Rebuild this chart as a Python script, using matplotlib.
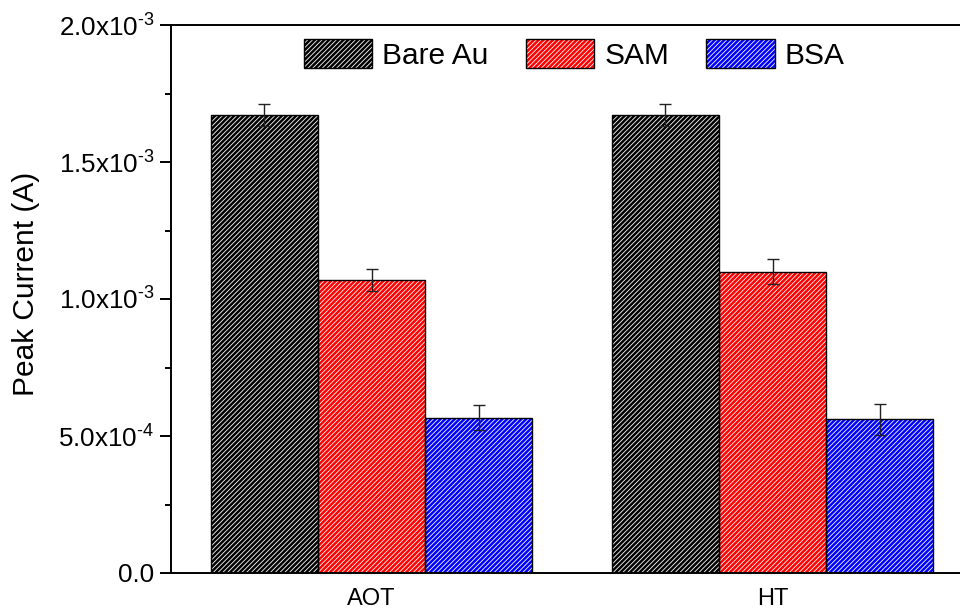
import matplotlib
matplotlib.use("Agg")
import matplotlib.pyplot as plt
from matplotlib.patches import Patch
from matplotlib.legend_handler import HandlerTuple
from matplotlib.ticker import FuncFormatter, MultipleLocator
import numpy as np

# Peak current per electrode stage, two surfactants
groups = ["AOT", "HT"]
series = ["Bare Au", "SAM", "BSA"]
bare_au = [1.672e-3, 1.672e-3]
bare_au_err = [0.039e-3, 0.039e-3]
sam = [1.069e-3, 1.100e-3]
sam_err = [0.040e-3, 0.046e-3]
bsa = [0.567e-3, 0.561e-3]
bsa_err = [0.046e-3, 0.056e-3]

colors = ["#000000", "#ff0000", "#0000ff"]
hatch = "///////"

plt.rcParams["font.family"] = ["Liberation Sans", "DejaVu Sans"]
plt.rcParams["mathtext.fontset"] = "custom"
plt.rcParams["mathtext.rm"] = "Liberation Sans"
plt.rcParams["mathtext.default"] = "regular"
plt.rcParams["hatch.linewidth"] = 0.6


def sci_fmt(v, pos):
    if v == 0:
        return "0.0"
    e = int(np.floor(np.log10(abs(v))))
    m = v / 10 ** e
    # short hyphen in the exponent instead of the wide math minus
    exp = str(e).replace("-", "\u2010")
    return r"$%.1fx10^{%s}$" % (m, exp)


fig = plt.figure(figsize=(9.6, 6.09), dpi=100)
ax = fig.add_axes([171 / 960, 36 / 609, 789 / 960, 548 / 609])

x = np.arange(len(groups))
width = 0.267
values = [bare_au, sam, bsa]
errors = [bare_au_err, sam_err, bsa_err]

handles = []
for i, (vals, errs, c) in enumerate(zip(values, errors, colors)):
    pos = x + (i - 1) * width
    # hatched fill first, then a plain black outline on top
    ax.bar(pos, vals, width, color=c, edgecolor="white", linewidth=0,
           hatch=hatch, zorder=2)
    ax.bar(pos, vals, width, fill=False, edgecolor="black", linewidth=1.0,
           zorder=3)
    ax.errorbar(pos, vals, yerr=errs, fmt="none", ecolor="#222222",
                elinewidth=1.0, capsize=4.5, capthick=1.0, zorder=4)
    handles.append((Patch(facecolor=c, edgecolor="white", linewidth=0, hatch=hatch),
                    Patch(fill=False, edgecolor="black", linewidth=1.0)))

ax.set_xlim(-0.5, -0.5 + 789 / 401)
ax.set_ylim(0, 2.0e-3)
ax.set_xticks(x)
ax.set_xticklabels(groups, fontsize=17)
ax.tick_params(axis="x", length=0, pad=11)

ax.yaxis.set_major_locator(MultipleLocator(5e-4))
ax.yaxis.set_minor_locator(MultipleLocator(2.5e-4))
ax.yaxis.set_major_formatter(FuncFormatter(sci_fmt))
ax.tick_params(axis="y", which="major", direction="out", length=8, width=1.4,
               labelsize=18.7, pad=4)
ax.tick_params(axis="y", which="minor", direction="out", length=4, width=1.4)

ax.spines["right"].set_visible(False)
for s in ["left", "top", "bottom"]:
    ax.spines[s].set_linewidth(1.4)
    ax.spines[s].set_zorder(5)

ax.set_ylabel("Peak Current (A)", fontsize=21.5, labelpad=13)
ax.yaxis.label.set_y(0.528)

ax.legend(handles, series, handler_map={tuple: HandlerTuple(ndivide=1)},
          loc="center", bbox_to_anchor=(0.511, 0.947), ncol=3, frameon=False,
          fontsize=21.5, handlelength=2.3, handleheight=1.16,
          handletextpad=0.34, columnspacing=1.23, borderpad=0, borderaxespad=0)

fig.savefig("out.png", dpi=100)
